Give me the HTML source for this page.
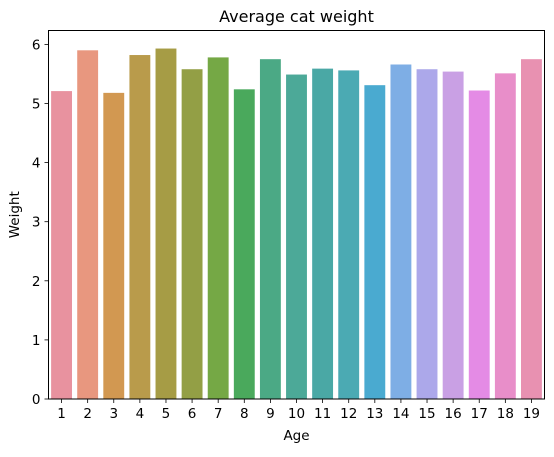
<!DOCTYPE html>
<html><head><meta charset="utf-8"><style>
body{margin:0;background:#fff;font-family:"DejaVu Sans","Liberation Sans",sans-serif}
</style></head><body>
<svg id="c" width="554" height="453" xmlns="http://www.w3.org/2000/svg" font-family="DejaVu Sans, Liberation Sans, sans-serif"></svg>
<script>
const categories=["1","2","3","4","5","6","7","8","9","10","11","12","13","14","15","16","17","18","19"];
const weights=[5.21,5.90,5.18,5.82,5.93,5.58,5.78,5.24,5.75,5.49,5.59,5.56,5.31,5.66,5.58,5.54,5.22,5.51,5.75];
const yTicks=[0,1,2,3,4,5,6];
const colors=["#e8929f","#e8977f","#d29851","#b99b4b","#a69c45","#939f45","#75a845","#4aa95c","#4ba985","#4ca998","#4aa8a5","#4baab3","#4aaad0","#7eaee5","#aca8ea","#c9a0e4","#e48be5","#e88ec9","#e891b1"];
const svg=document.getElementById('c');
const NS="http://www.w3.org/2000/svg";
const L=48.5,R=544.5,T=30.5,B=399;
const y=v=>B-v*59.1;
const slot=(R-L)/categories.length;
const x=i=>L+slot*i+slot/2;
function mk(t,a){const e=document.createElementNS(NS,t);for(const k in a)e.setAttribute(k,a[k]);svg.appendChild(e);return e;}
weights.forEach((w,i)=>{
 const r=mk('rect',{x:x(i)-slot*0.4,y:y(w),width:slot*0.8,height:B-y(w),fill:colors[i]});
 
 
 mk('line',{x1:x(i),x2:x(i),y1:B,y2:B+4,stroke:'#000','stroke-width':0.8});
 const t=mk('text',{x:x(i),y:B+19,'text-anchor':'middle','font-size':13.5,fill:'#000'});
 t.textContent=categories[i];
 
 
});
yTicks.forEach(v=>{
 mk('line',{x1:L-4,x2:L,y1:y(v),y2:y(v),stroke:'#000','stroke-width':0.8});
 const t=mk('text',{x:L-8,y:y(v)+5,'text-anchor':'end','font-size':13.5,fill:'#000'});
 t.textContent=v;
 
 
});
const f=mk('rect',{x:L,y:T,width:R-L,height:B-T,fill:'none',stroke:'#000','stroke-width':1});


let t=mk('text',{x:(L+R)/2,y:22,'text-anchor':'middle','font-size':16});t.textContent='Average cat weight';


t=mk('text',{x:(L+R)/2,y:440,'text-anchor':'middle','font-size':13.5});t.textContent='Age';


t=mk('text',{x:19,y:(T+B)/2,'text-anchor':'middle','font-size':13.5,transform:`rotate(-90 19 ${(T+B)/2})`});t.textContent='Weight';


</script>
</body></html>
